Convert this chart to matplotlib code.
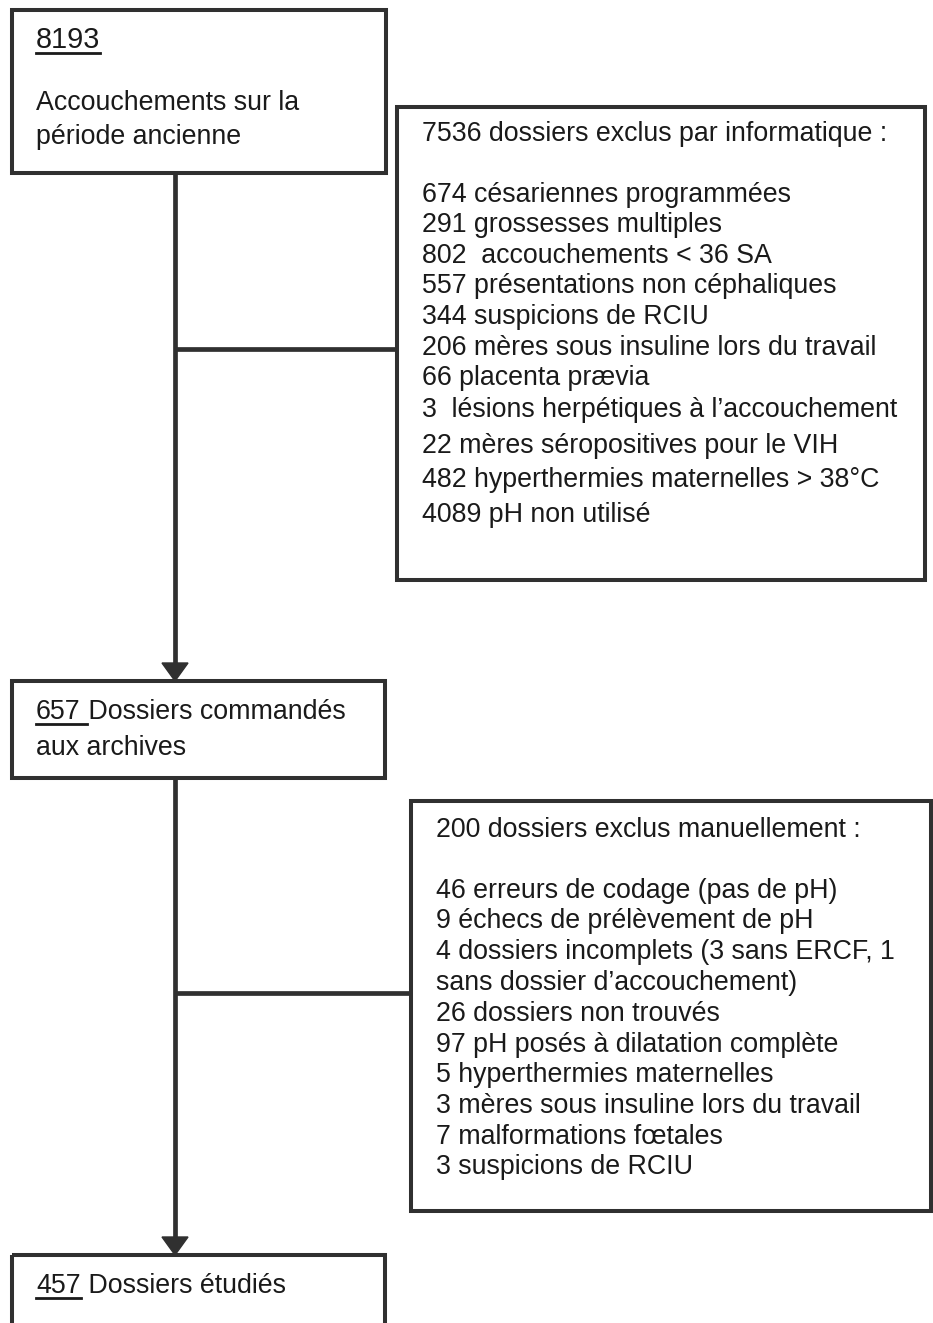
import matplotlib
matplotlib.use("Agg")
import matplotlib.pyplot as plt
from matplotlib.patches import Rectangle, Polygon

# ---------------- data ----------------
top_number = "8193"
top_label = ["Accouchements sur la", "période ancienne"]

excl1_title = "7536 dossiers exclus par informatique :"
excl1_items = [
    "674 césariennes programmées",
    "291 grossesses multiples",
    "802  accouchements < 36 SA",
    "557 présentations non céphaliques",
    "344 suspicions de RCIU",
    "206 mères sous insuline lors du travail",
    "66 placenta prævia",
    "3  lésions herpétiques à l\u2019accouchement",
    "22 mères séropositives pour le VIH",
    "482 hyperthermies maternelles > 38°C",
    "4089 pH non utilisé",
]

mid_number = "657"
mid_label = [" Dossiers commandés", "aux archives"]

excl2_title = "200 dossiers exclus manuellement :"
excl2_items = [
    "46 erreurs de codage (pas de pH)",
    "9 échecs de prélèvement de pH",
    "4 dossiers incomplets (3 sans ERCF, 1",
    "sans dossier d\u2019accouchement)",
    "26 dossiers non trouvés",
    "97 pH posés à dilatation complète",
    "5 hyperthermies maternelles",
    "3 mères sous insuline lors du travail",
    "7 malformations fœtales",
    "3 suspicions de RCIU",
]

bottom_number = "457"
bottom_label = " Dossiers étudiés"

# ---------------- layout ----------------
W, H = 933, 1323
FS = 19.3
TXT = "#1a1a1a"
EDGE = "#303030"
plt.rcParams["font.family"] = ["Liberation Sans", "DejaVu Sans"]

fig = plt.figure(figsize=(W / 100, H / 100), dpi=100)
ax = fig.add_axes([0, 0, 1, 1])
ax.set_xlim(0, W)
ax.set_ylim(H, 0)
ax.axis("off")


def box(x0, y0, x1, y1):
    ax.add_patch(Rectangle((x0, y0), x1 - x0, y1 - y0, fill=False,
                           edgecolor=EDGE, linewidth=2.9, zorder=2))


def line(xs, ys):
    ax.plot(xs, ys, color=EDGE, linewidth=3.4, solid_capstyle="butt", zorder=1)


def arrow_down(x, y0, y1):
    line([x, x], [y0, y1 - 12])
    ax.add_patch(Polygon([[x - 13, y1 - 18], [x + 13, y1 - 18], [x, y1]],
                         closed=True, color=EDGE, zorder=3))


def txt(x, y, s, fs=FS):
    return ax.text(x, y, s, fontsize=fs, color=TXT, ha="left", va="center")


def underlined(x, y, s, extra=0, fs=FS, dy=12):
    t = txt(x, y, s, fs)
    fig.canvas.draw()
    bb = t.get_window_extent(renderer=fig.canvas.get_renderer())
    inv = ax.transData.inverted()
    (xa, _), (xb, _) = inv.transform([[bb.x0, bb.y0], [bb.x1, bb.y0]])
    ax.plot([xa, xb + extra], [y + dy, y + dy], color=TXT, linewidth=2.0)
    return xb + extra


# boxes
box(12, 10, 386, 173)
box(397, 107, 925, 580)
box(12, 681, 385, 778)
box(411, 801, 931, 1211)
box(12, 1255, 385, 1330)

# connectors
arrow_down(175, 173, 681)
line([175, 397], [349, 349])
arrow_down(175, 778, 1255)
line([175, 411], [993, 993])

# box 1
underlined(36, 40, top_number, fs=20.8, dy=13)
txt(36, 103, top_label[0])
txt(36, 137, top_label[1])

# box 2
txt(422, 134, excl1_title)
ys1 = [195, 225, 256, 286, 317, 348, 378, 410, 446, 480, 515]
for y, s in zip(ys1, excl1_items):
    txt(422, y, s)

# box 3
xe = underlined(36, 712, mid_number, extra=6)
txt(xe - 6, 712, mid_label[0])
txt(36, 748, mid_label[1])

# box 4
txt(436, 830, excl2_title)
ys2 = [891, 921, 952, 983, 1014, 1045, 1075, 1106, 1137, 1167]
for y, s in zip(ys2, excl2_items):
    txt(436, y, s)

# box 5
xe = underlined(36, 1286, bottom_number)
txt(xe, 1286, bottom_label)

fig.savefig("out.png", dpi=100, facecolor="white")
